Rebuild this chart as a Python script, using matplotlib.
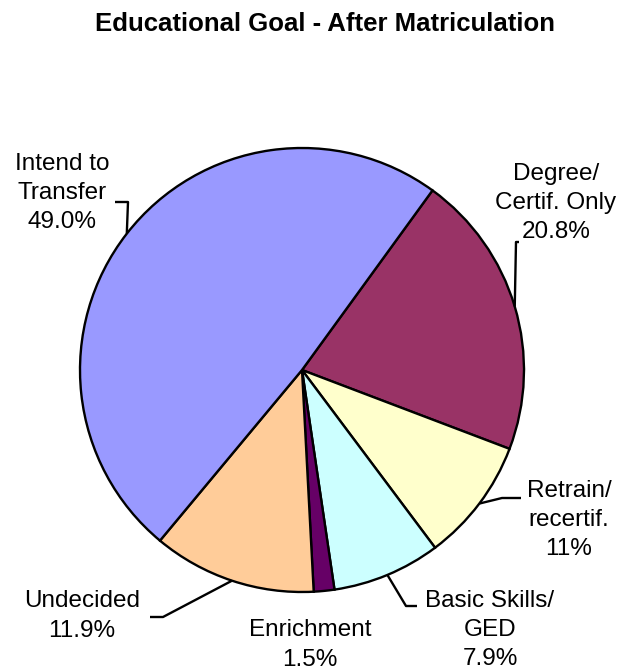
import numpy as np
import matplotlib
matplotlib.use('Agg')
import matplotlib.pyplot as plt

plt.rcParams['font.family'] = ['Liberation Sans', 'DejaVu Sans']

# slices in drawing order (clockwise from the top-right boundary)
categories = ['Degree/\nCertif. Only', 'Retrain/\nrecertif.', 'Basic Skills/\nGED',
              'Enrichment', 'Undecided', 'Intend to\nTransfer']
values = [20.8, 9.0, 7.9, 1.5, 11.9, 49.0]
pct_labels = ['20.8%', '11%', '7.9%', '1.5%', '11.9%', '49.0%']
colors = ['#993366', '#FFFFCC', '#CCFFFF', '#660066', '#FFCC99', '#9999FF']

W, H = 625, 670
fig = plt.figure(figsize=(W / 100, H / 100), dpi=100)
ax = fig.add_axes([0, 0, 1, 1])
ax.set_aspect('equal')

cx, cy, r = 302, H - 370, 222
start = 54
wedges, _ = ax.pie(values, colors=colors, startangle=start, counterclock=False,
                   center=(cx, cy), radius=r, frame=True,
                   wedgeprops=dict(edgecolor='black', linewidth=1.7))
ax.set_xlim(0, W)
ax.set_ylim(0, H)
ax.axis('off')

# label layout: text centre, leader elbow, leader end (pixel coords, y down)
layout = {
    0: ((556, 203), (516, 242), (519, 242)),
    1: ((569, 520), (502, 498), (521, 498)),
    2: ((490, 630), (406, 606), (417, 606)),
    3: ((310, 645), None, None),
    4: ((82, 616), (163, 617), (150, 617)),
    5: ((62, 193), (128, 202), (115, 202)),
}

for i, w in enumerate(wedges):
    (tx, ty), elbow, end = layout[i]
    ax.text(tx, H - ty, categories[i] + '\n' + pct_labels[i], ha='center', va='center',
            fontsize=17.5, linespacing=1.42)
    if elbow is None:
        continue
    mid = np.deg2rad((w.theta1 + w.theta2) / 2)
    ax0, ay0 = cx + r * np.cos(mid), cy + r * np.sin(mid)
    ax.plot([ax0, elbow[0], end[0]], [ay0, H - elbow[1], H - end[1]],
            color='black', lw=1.7, solid_capstyle='butt')

fig.text(325 / W, 1 - 24 / H, 'Educational Goal - After Matriculation',
         ha='center', va='center', fontsize=18.5, fontweight='bold')

fig.savefig('out.png', dpi=100)
